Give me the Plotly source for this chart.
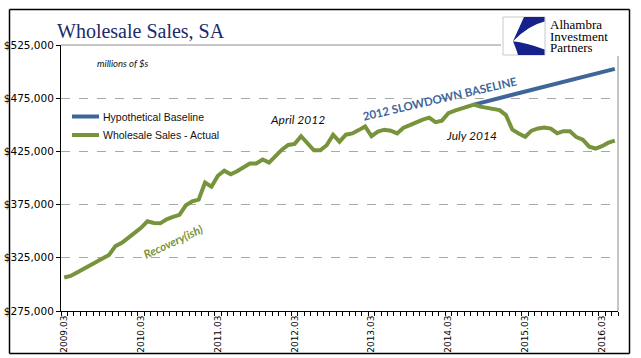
import plotly.graph_objects as go

# ---------------- data ----------------
start_year, start_month = 2009, 3
n_months = 87  # 2009.03 .. 2016.05
months = []
y, m = start_year, start_month
for _ in range(n_months):
    months.append(f"{y}.{m:02d}")
    m += 1
    if m > 12:
        m = 1
        y += 1

actual = [
    306500, 308000, 311300, 314700, 318300, 321600, 324900, 327700, 336000, 339000,
    343700, 348000, 353200, 359300, 357700, 357400, 361200, 363500, 365400, 374300,
    378100, 379700, 395700, 391800, 402100, 406800, 403500, 406400, 409700, 413600,
    413600, 417400, 414500, 420500, 426600, 431100, 432100, 439300, 432700, 426100,
    426100, 430800, 440700, 434100, 440700, 441900, 445000, 448500, 439300, 443600,
    445400, 444500, 441900, 447300, 449700, 452500, 454900, 456700, 452500, 453900,
    461000, 463300, 465200, 467100, 469000, 467100, 465700, 464500, 463800, 459100,
    445400, 441900, 438800, 444500, 446600, 447500, 446400, 442100, 444000, 444000,
    438400, 436000, 429400, 427700, 429900, 433200, 435100,
]

baseline_start = 64  # 2014.07
baseline_vals = [
    469000, 470500, 472000, 473600, 475100, 476600, 478200, 479700, 481200, 482700,
    484300, 485800, 487300, 488900, 490400, 491900, 493500, 495000, 496500, 498000,
    499600, 501100, 502600,
]
baseline = [None] * baseline_start + baseline_vals

tick_labels = ["2009.03", "2010.03", "2011.03", "2012.03",
               "2013.03", "2014.03", "2015.03", "2016.03"]
y_ticks = [275000, 325000, 375000, 425000, 475000, 525000]
series_names = ["Hypothetical Baseline", "Wholesale Sales - Actual"]

x_idx = list(range(len(months)))
tick_pos = [months.index(t) for t in tick_labels]
boundaries = [i - 0.5 for i in range(len(months) + 1)]

BLUE = "#3F6699"
GREEN = "#77933C"

# ---------------- layout geometry (pixels) ----------------
W, H = 641, 358
L, R, T, B = 61, 618, 45, 311


def px(p):
    return (p - L) / (R - L)


def py(p):
    return (B - p) / (B - T)


fig = go.Figure()
fig.add_trace(go.Scatter(x=x_idx, y=baseline, mode="lines", name=series_names[0],
                         line=dict(color=BLUE, width=4), showlegend=False))
fig.add_trace(go.Scatter(x=x_idx, y=actual, mode="lines", name=series_names[1],
                         line=dict(color=GREEN, width=4), showlegend=False))
# carrier trace for the monthly tick-mark axis
fig.add_trace(go.Scatter(x=[None], y=[None], xaxis="x2", showlegend=False, hoverinfo="skip"))

xr = [-0.5, n_months - 0.5]
fig.update_layout(
    width=W, height=H,
    margin=dict(l=L, r=W - R, t=T, b=H - B, autoexpand=False),
    paper_bgcolor="white", plot_bgcolor="white",
    showlegend=False,
    xaxis=dict(range=xr, tickmode="array", tickvals=tick_pos,
               ticktext=tick_labels, tickangle=-90, ticks="", showgrid=False, zeroline=False,
               showline=True, linecolor="black", linewidth=1,
               tickfont=dict(family="DejaVu Sans", size=9, color="black")),
    xaxis2=dict(range=xr, overlaying="x", anchor="y", side="bottom", tickmode="array",
                tickvals=boundaries, ticks="outside", ticklen=4, tickcolor="black",
                tickwidth=1, showticklabels=False, showgrid=False, zeroline=False,
                showline=False),
    yaxis=dict(range=[275000, 525000], tickmode="array", tickvals=y_ticks,
               tickformat="$,.0f", ticks="outside", ticklen=4, tickcolor="black",
               showline=True, linecolor="black", linewidth=1, zeroline=False,
               showgrid=True, gridcolor="#A8A8A8", griddash="dash", gridwidth=1,
               tickfont=dict(family="DejaVu Sans", size=10.5, color="black")),
)

shapes = []
# plot area top / right border (gray)
shapes.append(dict(type="line", xref="paper", yref="paper", x0=0, x1=1, y0=1, y1=1,
                   line=dict(color="#8C8C8C", width=1), layer="above"))
shapes.append(dict(type="line", xref="paper", yref="paper", x0=1, x1=1, y0=0, y1=1,
                   line=dict(color="#8C8C8C", width=1), layer="above"))
# white box behind logo
shapes.append(dict(type="rect", xref="paper", yref="paper", x0=px(501), x1=px(627),
                   y0=py(56), y1=py(12), fillcolor="white", line=dict(width=0), layer="above"))
# logo square
shapes.append(dict(type="rect", xref="paper", yref="paper", x0=px(503), x1=px(545),
                   y0=py(55), y1=py(17), fillcolor="white",
                   line=dict(color="#C8C8C8", width=1), layer="above"))


def path(pts_cmds):
    out = []
    for c in pts_cmds:
        if isinstance(c, str):
            out.append(c)
        else:
            out.append(f"{px(c[0]):.5f},{py(c[1]):.5f}")
    return " ".join(out)


top_wedge = path(["M", (513, 41.3), "L", (524, 17), "L", (544.5, 17), "L", (544.5, 21.5),
                  "Q", (528, 25.5), (513, 41.3), "Z"])
bottom_wedge = path(["M", (513, 41.3), "Q", (516.5, 50), (518, 55), "L", (544.5, 55),
                     "L", (544.5, 49.5), "Q", (526, 42.5), (513, 41.3), "Z"])
for p in (top_wedge, bottom_wedge):
    shapes.append(dict(type="path", xref="paper", yref="paper", path=p,
                       fillcolor="#16218C", line=dict(width=0), layer="above"))

# legend samples
for i, (name, col) in enumerate(zip(series_names, [BLUE, GREEN])):
    yy = 116.5 + i * 18.5
    shapes.append(dict(type="line", xref="paper", yref="paper", x0=px(72), x1=px(99),
                       y0=py(yy), y1=py(yy), line=dict(color=col, width=4), layer="above"))

# outer black frame
fx0, fx1, fy0, fy1 = px(9.5), px(629.5), py(353.5), py(9.5)
for (a, b, c, d) in [(fx0, fx1, fy0, fy0), (fx0, fx1, fy1, fy1), (fx0, fx0, fy0, fy1), (fx1, fx1, fy0, fy1)]:
    shapes.append(dict(type="line", xref="paper", yref="paper", x0=a, x1=b, y0=c, y1=d,
                       line=dict(color="black", width=1.5), layer="above"))
fig.update_layout(shapes=shapes)

ann = []


def add_text(text, x, y, size, family, color, xanchor="center", angle=0, **kw):
    ann.append(dict(text=text, x=px(x), y=py(y), xref="paper", yref="paper",
                    xanchor=xanchor, yanchor="middle", showarrow=False, textangle=angle,
                    font=dict(size=size, family=family, color=color), **kw))


add_text("Wholesale Sales, SA", 55, 31, 20, "Liberation Serif", "#1C2A6B", xanchor="left")
for i, word in enumerate(["Alhambra", "Investment", "Partners"]):
    add_text(word, 548.5, 25 + i * 11, 13, "Liberation Serif", "black", xanchor="left",
             height=11, borderpad=0)
add_text("<i>millions of $s</i>", 123, 63, 9.5, "Lato", "#111")
add_text("<i>April 2012</i>", 297.5, 119.5, 12, "Lato", "#111")
add_text("<i>July 2014</i>", 471.5, 135, 12, "Lato", "#111")
add_text("<b>2012 SLOWDOWN BASELINE</b>", 440, 98.5, 11.5, "Lato", BLUE, angle=-13)
add_text("<b><i>Recovery(ish)</i></b>", 173, 241, 11.5, "Lato", GREEN, angle=-25)
for i, name in enumerate(series_names):
    add_text(name, 100.5, 116.5 + i * 18.5, 10.5, "Liberation Sans", "#111", xanchor="left")
fig.update_layout(annotations=ann)

fig.write_html("out.html", config={"displayModeBar": False},
               post_script="document.body.style.margin='0px';")
